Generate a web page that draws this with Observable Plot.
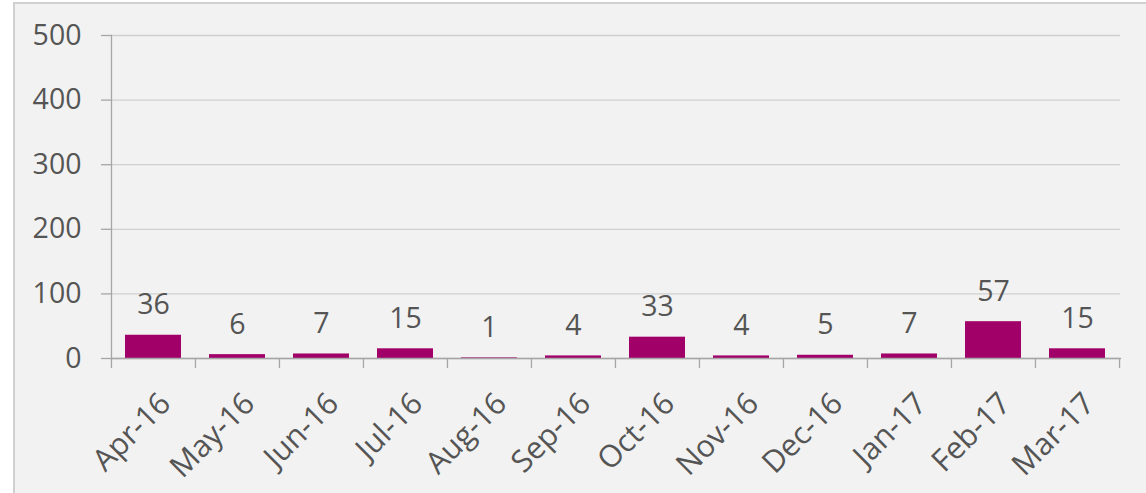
<!DOCTYPE html>
<html>
<head>
<meta charset="utf-8">
<script src="https://cdn.jsdelivr.net/npm/d3@7"></script>
<script src="https://cdn.jsdelivr.net/npm/@observablehq/plot@0.6"></script>
<style>
  html, body { margin: 0; padding: 0; background: #ffffff; }
  #wrap { position: relative; width: 1146px; height: 493px; overflow: hidden; }
  #box { position: absolute; left: 13px; top: 2px; width: 1140px; height: 500px;
         background: #f2f2f2; border: 2px solid #d0d0d0; box-sizing: border-box; }
  #chart { position: absolute; left: 0; top: 0; }
</style>
</head>
<body>
<div id="wrap">
  <div id="box"></div>
  <div id="chart"></div>
</div>
<script>
const months = ["Apr-16","May-16","Jun-16","Jul-16","Aug-16","Sep-16","Oct-16","Nov-16","Dec-16","Jan-17","Feb-17","Mar-17"];
const counts = [36, 6, 7, 15, 1, 4, 33, 4, 5, 7, 57, 15];
const yTicks = [0, 100, 200, 300, 400, 500];

const data = months.map((m, i) => ({month: m, count: counts[i]}));

const W = 1146, H = 493;
const mL = 111, mR = 26, mT = 35, mB = 135;
const step = (W - mL - mR) / months.length;
const textColor = "#555555";
const font = "Open Sans, sans-serif";

const chart = Plot.plot({
  width: W,
  height: H,
  marginLeft: mL,
  marginRight: mR,
  marginTop: mT,
  marginBottom: mB,
  style: {background: "transparent", fontFamily: font, color: textColor},
  x: {domain: months, paddingInner: 0.33, paddingOuter: 0.165},
  y: {domain: [0, 500]},
  marks: [
    Plot.gridY(yTicks, {stroke: "#d0d0d0", strokeOpacity: 1, strokeWidth: 1.3}),
    Plot.axisY(yTicks, {tickSize: 10, tickPadding: 20, fontSize: 28.5, stroke: "#a6a6a6", strokeWidth: 1.3, fill: textColor, label: null}),
    Plot.barY(data, {x: "month", y: "count", fill: "#a10068"}),
    Plot.frame({anchor: "left", stroke: "#a6a6a6", strokeWidth: 1.3}),
    Plot.frame({anchor: "bottom", stroke: "#a6a6a6", strokeWidth: 1.3}),
    Plot.axisX({ticks: months, tickSize: 10, tickFormat: () => "", dx: -step / 2, stroke: "#a6a6a6", strokeWidth: 1.3, label: null}),
    Plot.axisX({ticks: [months[months.length - 1]], tickSize: 10, tickFormat: () => "", dx: step / 2, stroke: "#a6a6a6", strokeWidth: 1.3, label: null}),
    Plot.text(months, {x: d => d, frameAnchor: "bottom", rotate: -45, textAnchor: "end", lineAnchor: "middle", dx: 12, dy: 40, fontSize: 30.5, fill: textColor}),
    Plot.text(data, {x: "month", y: "count", text: d => String(d.count), lineAnchor: "middle", dy: -30, fontSize: 28.5, fill: textColor})
  ]
});
document.getElementById("chart").appendChild(chart);
</script>
</body>
</html>
